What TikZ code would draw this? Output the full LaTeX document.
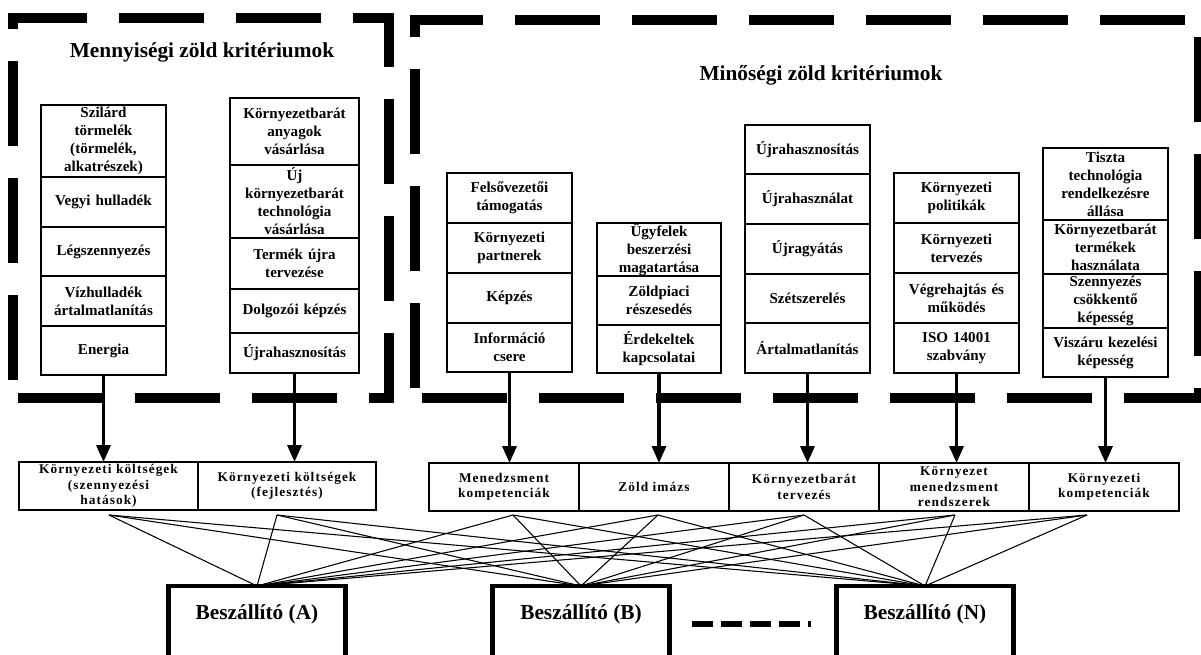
\documentclass[tikz,border=0pt]{standalone}
\usepackage{fontspec}
\setmainfont{Liberation Serif}
\newfontfamily\spacedfont{Liberation Serif}[LetterSpace=8]
\usetikzlibrary{positioning, arrows.meta}

\tikzset{
    frame/.style={line width=7.5pt, dash pattern=on 63.75pt off 24pt},
    cell/.style={draw, line width=1.6pt, outer sep=0pt, inner xsep=2pt, inner ysep=0pt,
        minimum width=93.75pt, text width=88pt, align=center,
        font=\bfseries\fontsize{11.3}{13.5}\selectfont},
    rowh/.style={minimum height=#1*0.75pt},
    crit/.style={draw, line width=1.5pt, outer sep=0pt, inner sep=0pt,
        minimum width=112.5pt, minimum height=36pt, align=center,
        font=\spacedfont\bfseries\fontsize{10}{11.6}\selectfont},
    title/.style={font=\bfseries\fontsize{16}{19}\selectfont},
    supplier/.style={draw, line width=3.5pt, anchor=north, outer sep=0pt,
        minimum width=132.75pt, inner ysep=0pt, text height=24.75pt, text depth=60pt,
        font=\bfseries\fontsize{16}{19}\selectfont},
    arr/.style={line width=2.5pt, -{Triangle[width=10.5pt,length=12.75pt]}},
    wire/.style={line width=0.8pt}
}

\begin{document}
\begin{tikzpicture}[x=0.75pt, y=-0.75pt]
    \useasboundingbox (0,0) rectangle (1201,654);

    % Dashed frames
    \draw[frame, dash phase=74.25pt] (12.5,398) -- (12.5,18) -- (388.5,18) -- (388.5,398) -- cycle;
    \draw[frame, dash phase=80.25pt] (415,398) -- (415,19.5) -- (1199,19.5) -- (1199,398) -- cycle;

    % Titles
    \node[title] (tq) at (202,52) {Mennyiségi zöld kritériumok};
    \node[title] (tm) at (821,75) {Minőségi zöld kritériumok};

    % Mennyiségi stacks
    \node[cell, rowh=72, anchor=north west] (qa1) at (41,105) {Szilárd\\törmelék\\(törmelék,\\alkatrészek)};
    \node[cell, rowh=50, below=0pt of qa1] (qa2) {Vegyi hulladék};
    \node[cell, rowh=49, below=0pt of qa2] (qa3) {Légszennyezés};
    \node[cell, rowh=50, below=0pt of qa3] (qa4) {Vízhulladék\\ártalmatlanítás};
    \node[cell, rowh=49, below=0pt of qa4] (qa5) {Energia};

    \node[cell, rowh=67, minimum width=96.75pt, anchor=north west] (qb1) at (230,98) {Környezetbarát\\anyagok\\vásárlása};
    \node[cell, rowh=73, minimum width=96.75pt, below=0pt of qb1] (qb2) {Új\\környezetbarát\\technológia\\vásárlása};
    \node[cell, rowh=51, minimum width=96.75pt, below=0pt of qb2] (qb3) {Termék újra\\tervezése};
    \node[cell, rowh=44, minimum width=96.75pt, below=0pt of qb3] (qb4) {Dolgozói képzés};
    \node[cell, rowh=40, minimum width=96.75pt, below=0pt of qb4] (qb5) {Újrahasznosítás};

    % Minőségi stacks
    \node[cell, rowh=50, anchor=north west] (ma1) at (447,173) {Felsővezetői\\támogatás};
    \node[cell, rowh=50, below=0pt of ma1] (ma2) {Környezeti\\partnerek};
    \node[cell, rowh=50, below=0pt of ma2] (ma3) {Képzés};
    \node[cell, rowh=49, below=0pt of ma3] (ma4) {Információ\\csere};

    \node[cell, rowh=53, minimum width=93pt, anchor=north west] (mb1) at (597,223) {Ügyfelek\\beszerzési\\magatartása};
    \node[cell, rowh=49, minimum width=93pt, below=0pt of mb1] (mb2) {Zöldpiaci\\részesedés};
    \node[cell, rowh=48, minimum width=93pt, below=0pt of mb2] (mb3) {Érdekeltek\\kapcsolatai};

    \node[cell, rowh=49, anchor=north west] (mc1) at (745,125) {Újrahasznosítás};
    \node[cell, rowh=50, below=0pt of mc1] (mc2) {Újrahasználat};
    \node[cell, rowh=50, below=0pt of mc2] (mc3) {Újragyátás};
    \node[cell, rowh=49, below=0pt of mc3] (mc4) {Szétszerelés};
    \node[cell, rowh=50, below=0pt of mc4] (mc5) {Ártalmatlanítás};

    \node[cell, rowh=50, anchor=north west] (md1) at (894,173) {Környezeti\\politikák};
    \node[cell, rowh=50, below=0pt of md1] (md2) {Környezeti\\tervezés};
    \node[cell, rowh=50, below=0pt of md2] (md3) {Végrehajtás és\\működés};
    \node[cell, rowh=50, below=0pt of md3] (md4) {ISO 14001\\szabvány};

    \node[cell, rowh=72, anchor=north west] (me1) at (1043,148) {Tiszta\\technológia\\rendelkezésre\\állása};
    \node[cell, rowh=54, below=0pt of me1] (me2) {Környezetbarát\\termékek\\használata};
    \node[cell, rowh=54, below=0pt of me2] (me3) {Szennyezés\\csökkentő\\képesség};
    \node[cell, rowh=49, below=0pt of me3] (me4) {Viszáru kezelési\\képesség};

    % Criteria row
    \node[crit, minimum width=134.25pt, anchor=north west] (ka) at (19,462) {Környezeti költségek\\(szennyezési\\hatások)};
    \node[crit, minimum width=133.5pt, right=0pt of ka] (kb) {Környezeti költségek\\(fejlesztés)};
    \node[crit, anchor=north west] (kc) at (429,463) {Menedzsment\\kompetenciák};
    \node[crit, right=0pt of kc] (kd) {Zöld imázs};
    \node[crit, right=0pt of kd] (ke) {Környezetbarát\\tervezés};
    \node[crit, right=0pt of ke] (kf) {Környezet\\menedzsment\\rendszerek};
    \node[crit, right=0pt of kf] (kg) {Környezeti\\kompetenciák};

    % Arrows
    \draw[arr] (qa5.south) -- (qa5.south |- ka.north);
    \draw[arr] (qb5.south) -- (qb5.south |- kb.north);
    \draw[arr] (ma4.south) -- (ma4.south |- kc.north);
    \draw[arr] (mb3.south) -- (mb3.south |- kd.north);
    \draw[arr] (mc5.south) -- (mc5.south |- ke.north);
    \draw[arr] (md4.south) -- (md4.south |- kf.north);
    \draw[arr] (me4.south) -- (me4.south |- kg.north);

    % Suppliers
    \node[supplier] (sA) at (257,586) {Beszállító (A)};
    \node[supplier] (sB) at (581,586) {Beszállító (B)};
    \node[supplier] (sN) at (925,586) {Beszállító (N)};

    \coordinate (dl) at (692,624);
    \coordinate (dr) at (811,624);
    \draw[line width=4.3pt, dash pattern=on 16.1pt off 5.6pt] (dl) -- (dr);

    % Wires
    \coordinate (wa) at (109,515);
    \coordinate (wb) at (277,515);
    \coordinate (wc) at (513,515);
    \coordinate (wd) at (658,515);
    \coordinate (we) at (804,515);
    \coordinate (wf) at (955,515);
    \coordinate (wg) at (1087,515);
    \foreach \w in {wa,wb,wc,wd,we,wf,wg}
        \foreach \s in {sA,sB,sN}
            \draw[wire] (\w) -- (\s.north);

\end{tikzpicture}
\end{document}
